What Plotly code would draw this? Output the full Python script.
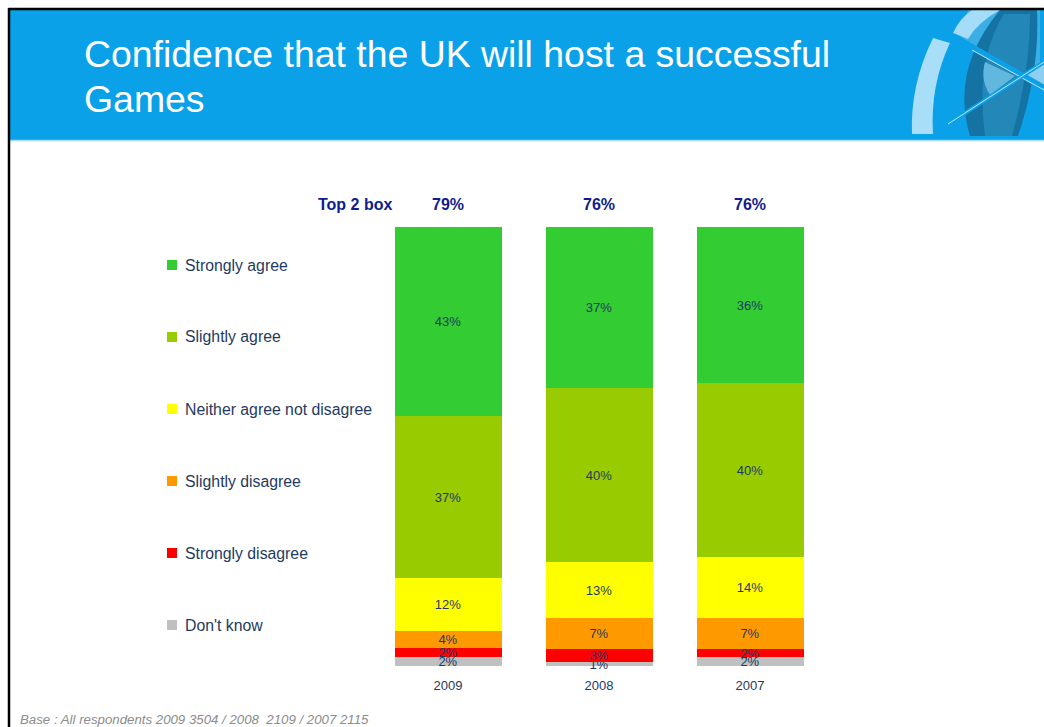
import plotly.graph_objects as go

# Survey results by year (percent of respondents)
years = ["2009", "2008", "2007"]
dont_know = [2, 1, 2]
strongly_disagree = [2, 3, 2]
slightly_disagree = [4, 7, 7]
neither = [12, 13, 14]
slightly_agree = [37, 40, 40]
strongly_agree = [43, 37, 36]
top2_box = [79, 76, 76]

# stacked bottom to top
series = [
    ("Don't know", dont_know, "#C0C0C0"),
    ("Strongly disagree", strongly_disagree, "#FF0000"),
    ("Slightly disagree", slightly_disagree, "#FF9900"),
    ("Neither agree not disagree", neither, "#FFFF00"),
    ("Slightly agree", slightly_agree, "#99CC00"),
    ("Strongly agree", strongly_agree, "#33CC33"),
]

W, H = 1044, 727
FONT = "Liberation Sans, Arial, sans-serif"
LABEL_COLOR = "#1F3A60"
NAVY = "#111C8C"
HEADER_BLUE = "#0AA1E8"


def px(x):
    return x / W


def py(y):
    return 1 - y / H


def svg(cmds):
    """Build an SVG path in paper units from pixel-coordinate commands."""
    out = []
    for c in cmds:
        op, pts = c[0], c[1:]
        coords = []
        for i in range(0, len(pts), 2):
            coords.append(f"{px(pts[i]):.5f},{py(pts[i + 1]):.5f}")
        out.append(op + " " + " ".join(coords))
    return " ".join(out)


fig = go.Figure()
for name, vals, col in series:
    fig.add_trace(go.Bar(
        x=years, y=vals, name=name, text=vals,
        marker=dict(color=col, line=dict(width=0)),
        width=0.715,
        texttemplate="%{text}%", textposition="inside", insidetextanchor="middle",
        constraintext="none", cliponaxis=False,
        textfont=dict(family=FONT, size=13, color=LABEL_COLOR),
        hoverinfo="skip", showlegend=False,
    ))

shapes = [
    # header band
    dict(type="rect", xref="paper", yref="paper", x0=px(10), x1=px(1044), y0=py(140), y1=py(10),
         fillcolor=HEADER_BLUE, line=dict(width=0), layer="below"),
    dict(type="line", xref="paper", yref="paper", x0=px(10), x1=px(1044), y0=py(140.5), y1=py(140.5),
         line=dict(color="#A8DCF4", width=1.5)),
]

# header emblem
emblem = [
    # medium blue wedge behind the upper arc
    ([("M", 968, 10), ("L", 1040, 10), ("L", 1040, 75), ("L", 960, 40), ("Z",)], "#3CAEE6"),
    # dark lens
    ([("M", 1000, 10), ("Q", 950, 70, 970, 136), ("L", 1018, 136),
      ("Q", 1040, 70, 1037, 10), ("Z",)], "#1573A3"),
    ([("M", 1004, 14), ("Q", 975, 60, 985, 136), ("L", 1012, 136),
      ("Q", 1030, 70, 1030, 14), ("Z",)], "#2387B8"),
    ([("M", 985, 62), ("L", 1015, 76), ("L", 990, 95), ("Q", 980, 80, 985, 62), ("Z",)], "#62B7DE"),
    # left arc band
    ([("M", 933, 38), ("L", 950, 43), ("Q", 930, 85, 933, 134), ("L", 912, 134),
      ("Q", 910, 85, 933, 38), ("Z",)], "#A8DEF8"),
    # upper arc band
    ([("M", 953, 33), ("Q", 960, 18, 972, 10), ("L", 1000, 10), ("Q", 978, 22, 968, 39), ("Z",)], "#A5DCF7"),
    # light wedge right of the crossing
    ([("M", 1023, 77), ("L", 1044, 62), ("L", 1044, 90), ("Z",)], "#8CCFF0"),
]
for cmds, col in emblem:
    shapes.append(dict(type="path", xref="paper", yref="paper", path=svg(cmds),
                       fillcolor=col, line=dict(width=0)))
shapes += [
    dict(type="line", xref="paper", yref="paper", x0=px(953), x1=px(1044), y0=py(36), y1=py(88),
         line=dict(color=HEADER_BLUE, width=6)),
    dict(type="line", xref="paper", yref="paper", x0=px(972), x1=px(1044), y0=py(50), y1=py(90),
         line=dict(color="#BFE6F8", width=1)),
    dict(type="line", xref="paper", yref="paper", x0=px(948), x1=px(1044), y0=py(124), y1=py(62),
         line=dict(color=HEADER_BLUE, width=4)),
    dict(type="line", xref="paper", yref="paper", x0=px(948), x1=px(1044), y0=py(124), y1=py(62),
         line=dict(color="#BFE6F8", width=1)),
    # frame
    dict(type="line", xref="paper", yref="paper", x0=px(8.5), x1=px(1044), y0=py(9), y1=py(9),
         line=dict(color="black", width=2.5)),
    dict(type="line", xref="paper", yref="paper", x0=px(9), x1=px(9), y0=py(727), y1=py(8),
         line=dict(color="black", width=2.5)),
]

annotations = [
    dict(text="Confidence that the UK will host a successful", xref="paper", yref="paper",
         x=px(82), y=py(31), xanchor="left", yanchor="top", align="left", showarrow=False,
         font=dict(family=FONT, size=37.4, color="white")),
    dict(text="Games", xref="paper", yref="paper",
         x=px(82), y=py(76), xanchor="left", yanchor="top", align="left", showarrow=False,
         font=dict(family=FONT, size=37.4, color="white")),
    dict(text="<b>Top 2 box</b>", xref="paper", yref="paper", x=px(394), y=py(204),
         xanchor="right", yanchor="middle", showarrow=False,
         font=dict(family=FONT, size=16, color=NAVY)),
    dict(text="<i>Base : All respondents 2009 3504 / 2008  2109 / 2007 2115</i>", xref="paper",
         yref="paper", x=px(18), y=py(719), xanchor="left", yanchor="middle", showarrow=False,
         font=dict(family=FONT, size=13.25, color="#8C8C8C")),
]
for i, v in enumerate(top2_box):
    annotations.append(dict(text=f"<b>{v}%</b>", x=i, xref="x", yref="paper", y=py(204),
                            xanchor="center", yanchor="middle", showarrow=False,
                            font=dict(family=FONT, size=16, color=NAVY)))

# key on the left, top item first
for k, (name, vals, col) in enumerate(reversed(series)):
    yc = 265 + 72 * k
    shapes.append(dict(type="rect", xref="paper", yref="paper", x0=px(167), x1=px(177),
                       y0=py(yc + 5), y1=py(yc - 5), fillcolor=col, line=dict(width=0)))
    annotations.append(dict(text=name, xref="paper", yref="paper", x=px(183), y=py(yc),
                            xanchor="left", yanchor="middle", showarrow=False,
                            font=dict(family=FONT, size=15.8, color=LABEL_COLOR)))

fig.update_layout(
    width=W, height=H, autosize=False,
    margin=dict(l=0, r=0, t=0, b=0),
    paper_bgcolor="white", plot_bgcolor="white",
    barmode="stack", barnorm="percent", bargap=0,
    font=dict(family=FONT, color=LABEL_COLOR),
    shapes=shapes, annotations=annotations,
    showlegend=False,
    xaxis=dict(type="category", range=[-0.5, 2.5], domain=[px(372.5), px(825.5)],
               showgrid=False, zeroline=False, showline=False, ticks="",
               tickfont=dict(family=FONT, size=13, color=LABEL_COLOR), ticklabelstandoff=10,
               fixedrange=True),
    yaxis=dict(range=[0, 100], domain=[py(666), py(227)], visible=False, fixedrange=True),
)

fig.write_html("out.html", config={"displayModeBar": False})
